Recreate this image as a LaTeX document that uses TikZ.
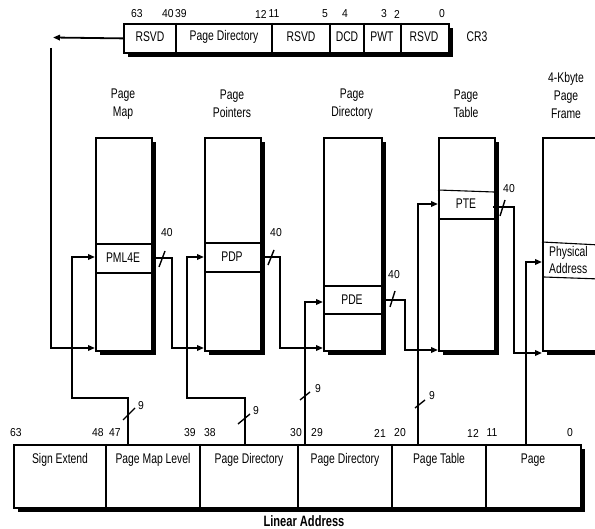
\documentclass[tikz,border=0pt]{standalone}
\usepackage{fontspec}
\setmainfont{Liberation Sans}[FakeStretch=0.74]
\newfontfamily\numfont{Liberation Sans}[FakeStretch=0.9]
\usetikzlibrary{arrows.meta,shadows}
\begin{document}
\begin{tikzpicture}[x=1pt,y=-1pt,
  box/.style={draw, line width=1.8pt, fill=white, inner sep=0pt, anchor=north west,
    drop shadow={shadow xshift=4pt, shadow yshift=-4pt, fill=black, opacity=1}},
  lbl/.style={font=\fontsize{14}{18}\selectfont, inner sep=0pt, align=center},
  num/.style={font=\numfont\fontsize{11.5}{12}\selectfont, inner sep=0pt},
  ln/.style={line width=1.8pt},
  thin/.style={line width=1.1pt},
  arr/.style={line width=1.8pt, -{Triangle[length=7pt,width=5.5pt]}},
  slash/.style={line width=1.4pt}]
\useasboundingbox (0,0) rectangle (595,529);
\clip (0,0) rectangle (595,529);

% ---------- CR3 register ----------
\node[box, minimum width=325pt, minimum height=29pt] (cr3) at (123,23) {};
\foreach \x in {176,272,330,364,401} \draw[ln] (\x,23) -- (\x,52);
\node[lbl] (c1) at (150,37) {RSVD};
\node[lbl] (c2) at (224,37) {Page Directory};
\node[lbl] (c3) at (301,37) {RSVD};
\node[lbl] (c4) at (347,37) {DCD};
\node[lbl] (c5) at (382,37) {PWT};
\node[lbl] (c6) at (424,37) {RSVD};
\node[lbl] (cr3l) at (477,37) {CR3};
\foreach \x/\t [count=\i] in {137/63,168/40,181/39,261/12,274/11,325/5,345/4,384/3,397/2,442/0}
  \node[num] (cb\i) at (\x,14) {\t};

% ---------- Tables ----------
\node[box, minimum width=56pt, minimum height=213pt] (pm) at (95,137) {};
\node[box, minimum width=56pt, minimum height=213pt] (pp) at (204,137) {};
\node[box, minimum width=58pt, minimum height=213pt] (pd) at (323,137) {};
\node[box, minimum width=56pt, minimum height=213pt] (pt) at (438,137) {};
\node[box, minimum width=80pt, minimum height=213pt] (pf) at (542,137) {};

% entries
\draw[ln] (95,244) -- (151,244) (95,273) -- (151,273);
\node[lbl] (pml4e) at (123,258) {PML4E};
\draw[ln] (204,243) -- (260,243) (204,272) -- (260,272);
\node[lbl] (pdp) at (232,257) {PDP};
\draw[ln] (323,286) -- (381,286) (323,314) -- (381,314);
\node[lbl] (pde) at (352,300) {PDE};
\draw[thin] (438,190) -- (494,192);
\draw[ln] (438,219) -- (494,219);
\node[lbl] (pte) at (466,204) {PTE};
\draw[thin] (542,242) -- (600,245) (544,277) -- (600,279);
\node[lbl, align=left, anchor=west] (phys) at (549,260) {Physical\\[-1pt]Address};

% titles
\node[lbl] (t1) at (123,104) {Page\\Map};
\node[lbl] (t2) at (232,104) {Page\\Pointers};
\node[lbl] (t3) at (352,104) {Page\\Directory};
\node[lbl] (t4) at (466,104) {Page\\Table};
\node[lbl] (t5) at (566,95) {4-Kbyte\\Page\\Frame};

% ---------- Linear address ----------
\node[box, minimum width=567pt, minimum height=63pt] (la) at (13,444) {};
\foreach \x in {106,200,298,392,486} \draw[ln] (\x,444) -- (\x,507);
\node[lbl] (l1) at (60,460) {Sign Extend};
\node[lbl] (l2) at (153,460) {Page Map Level};
\node[lbl] (l3) at (249,460) {Page Directory};
\node[lbl] (l4) at (345,460) {Page Directory};
\node[lbl] (l5) at (439,460) {Page Table};
\node[lbl] (l6) at (533,460) {Page};
\foreach \x/\t [count=\i] in {16/63,98/48,115/47,190/39,210/38,296/30,317/29,380/21,400/20,473/12,492/11,570/0}
  \node[num] (lb\i) at (\x,433) {\t};
\node[lbl, font=\bfseries\fontsize{15}{16}\selectfont] (lal) at (304,521) {Linear Address};

% ---------- connectors ----------
\coordinate (cr3out) at (53,37.5);
\coordinate (cr3down) at (51,48);
\coordinate (pmin) at (95,348);
\draw[arr] (cr3.west) -- (cr3out);
\draw[arr] (cr3down) |- (pmin);

\coordinate (f1) at (128,444);
\coordinate (f2) at (245,444);
\coordinate (f3) at (305,444);
\coordinate (f4) at (418,444);
\coordinate (f5) at (526,444);

\coordinate (pmlin) at (95,257);
\coordinate (ppin) at (204,348);
\coordinate (pdpin) at (204,257);
\coordinate (pdin) at (323,348);
\coordinate (pdein) at (323,302);
\coordinate (ptin) at (438,350);
\coordinate (ptein) at (438,204);
\coordinate (pfin) at (542,353);
\coordinate (physin) at (542,262);

% PML4
\draw[arr] (f1) |- (72,398) |- (pmlin);
\draw[slash] (123,420) -- (135,408);
\node[num] (n1) at (141,406) {9};
\draw[arr] (151,258) -| (172,348) -- (ppin);
\draw[slash] (159,267) -- (165,251);
\node[num] (n2) at (167,233) {40};

% PDP
\draw[arr] (f2) |- (187,398) |- (pdpin);
\draw[slash] (238,424) -- (250,414);
\node[num] (n3) at (256,411) {9};
\draw[arr] (260,257) -| (280,348) -- (pdin);
\draw[slash] (268,265) -- (274,250);
\node[num] (n4) at (276,233) {40};

% PDE
\draw[arr] (f3) |- (pdein);
\draw[slash] (300,400) -- (310,392);
\node[num] (n5) at (318,389) {9};
\draw[arr] (381,300) -| (405,350) -- (ptin);
\draw[slash] (390,307) -- (395,291);
\node[num] (n6) at (394,275) {40};

% PTE
\draw[arr] (f4) |- (ptein);
\draw[slash] (415,408) -- (425,400);
\node[num] (n7) at (432,396) {9};
\draw[arr] (493,207) -| (514,353) -- (pfin);
\draw[slash] (500,216) -- (505,200);
\node[num] (n8) at (509,189) {40};

% Page
\draw[arr] (f5) |- (physin);
\end{tikzpicture}
\end{document}
